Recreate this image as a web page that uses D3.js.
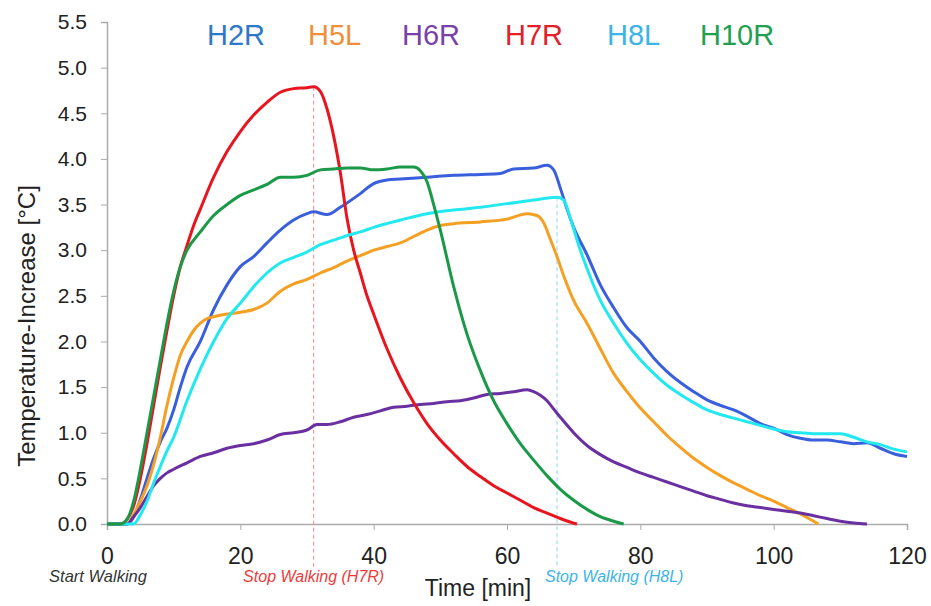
<!DOCTYPE html>
<html lang="en">
<head>
<meta charset="UTF-8">
<title>Temperature increase</title>
<script src="https://d3js.org/d3.v7.min.js"></script>
<style>
  body { margin: 0; background: #fff; }
  svg { display: block; font-family: "Liberation Sans", Arial, sans-serif; }
</style>
</head>
<body>
<div id="chart"></div>
<script>
// series: [time (min), temperature increase (°C)]
const h2r = [[0,0],[3,0],[4,0.08],[5,0.27],[6,0.5],[7,0.72],[8,0.9],[9,1.05],[10,1.25],[11,1.5],[12,1.72],[14,2.0],[16,2.35],[18,2.62],[20,2.82],[22,2.93],[24,3.08],[26,3.22],[28,3.33],[30,3.4],[31,3.42],[33,3.39],[35,3.47],[38,3.62],[40,3.73],[42,3.77],[44,3.78],[48,3.8],[52,3.82],[56,3.83],[59,3.84],[61,3.89],[64,3.9],[66,3.93],[67,3.88],[68,3.68],[69,3.45],[70,3.25],[72,2.95],[74,2.62],[76,2.37],[78,2.15],[80,2.0],[82,1.82],[84,1.67],[86,1.55],[88,1.45],[90,1.36],[92,1.3],[94,1.25],[96,1.18],[98,1.1],[100,1.05],[102,0.98],[104,0.94],[106,0.92],[108,0.92],[110,0.9],[112,0.88],[114,0.89],[116,0.83],[118,0.77],[120,0.74]];
const h5l = [[0,0],[3,0],[4,0.1],[5,0.25],[6,0.42],[7,0.65],[8,0.95],[9,1.3],[10,1.6],[11,1.85],[12,2.0],[13,2.12],[14,2.2],[15,2.25],[16,2.27],[18,2.3],[20,2.32],[22,2.35],[24,2.42],[26,2.55],[28,2.63],[30,2.68],[32,2.75],[34,2.81],[36,2.88],[38,2.94],[40,3.0],[42,3.04],[44,3.08],[46,3.15],[48,3.22],[50,3.27],[52,3.29],[56,3.31],[60,3.34],[63,3.4],[64.5,3.38],[65.5,3.3],[66.5,3.12],[67.5,2.93],[68.5,2.72],[70,2.45],[72,2.2],[74,1.92],[76,1.65],[78,1.45],[80,1.27],[82,1.12],[84,0.97],[86,0.84],[88,0.72],[90,0.62],[92,0.53],[94,0.45],[96,0.38],[98,0.31],[100,0.25],[102,0.18],[104,0.11],[106,0.03],[106.7,0]];
const h6r = [[0,0],[3,0],[4,0.08],[5,0.18],[6,0.3],[7,0.42],[8,0.5],[9,0.56],[10,0.6],[12,0.67],[14,0.74],[16,0.78],[18,0.83],[20,0.86],[22,0.88],[24,0.92],[26,0.98],[28,1.0],[30,1.03],[31.5,1.09],[33,1.09],[35,1.12],[37,1.17],[39,1.2],[41,1.24],[43,1.28],[45,1.29],[47,1.31],[49,1.32],[51,1.34],[53,1.35],[55,1.38],[57,1.42],[59,1.43],[61,1.45],[63,1.47],[64,1.45],[65,1.41],[66,1.35],[67,1.26],[68,1.17],[70,1.0],[72,0.86],[74,0.76],[76,0.68],[78,0.62],[80,0.56],[82,0.51],[84,0.46],[86,0.41],[88,0.36],[90,0.31],[92,0.27],[94,0.23],[96,0.2],[98,0.18],[100,0.16],[102,0.14],[104,0.12],[106,0.09],[108,0.06],[110,0.03],[112,0.01],[114,0]];
const h7r = [[0,0],[2,0],[3,0.05],[4,0.2],[5,0.5],[6,0.88],[7,1.3],[8,1.72],[9,2.12],[10,2.5],[11,2.82],[12,3.05],[13,3.27],[14,3.45],[16,3.8],[18,4.08],[20,4.3],[22,4.48],[24,4.62],[26,4.73],[28,4.77],[30,4.78],[31,4.79],[32,4.74],[33,4.55],[34,4.25],[35,3.85],[36,3.35],[37,3.0],[38,2.75],[39,2.5],[40,2.3],[42,1.92],[44,1.6],[46,1.33],[48,1.1],[50,0.92],[52,0.77],[54,0.63],[56,0.52],[58,0.42],[60,0.34],[62,0.26],[64,0.18],[66,0.12],[68,0.06],[70,0.01],[70.5,0]];
const h8l = [[0,0],[4,0],[5,0.1],[6,0.25],[7,0.45],[8,0.63],[9,0.8],[10,0.95],[12,1.35],[14,1.7],[16,2.0],[18,2.25],[20,2.42],[22,2.6],[24,2.75],[26,2.86],[28,2.92],[30,2.98],[32,3.06],[34,3.11],[36,3.16],[38,3.2],[40,3.25],[44,3.33],[48,3.4],[52,3.44],[56,3.47],[60,3.51],[64,3.55],[67.5,3.58],[68.5,3.55],[69.5,3.35],[71,3.0],[72,2.8],[74,2.45],[76,2.2],[78,1.98],[80,1.8],[82,1.65],[84,1.52],[86,1.42],[88,1.33],[90,1.25],[92,1.2],[94,1.16],[96,1.12],[98,1.08],[100,1.04],[102,1.01],[104,1.0],[106,0.99],[108,0.99],[110,0.99],[112,0.95],[114,0.9],[116,0.87],[118,0.82],[120,0.79]];
const h10r = [[0,0],[2,0],[3,0.05],[4,0.25],[5,0.6],[6,1.0],[7,1.4],[8,1.8],[9,2.2],[10,2.55],[11,2.82],[12,3.0],[14,3.2],[16,3.38],[18,3.5],[20,3.6],[22,3.66],[24,3.72],[26,3.8],[28,3.8],[30,3.82],[32,3.88],[34,3.89],[36,3.9],[38,3.9],[40,3.88],[42,3.89],[44,3.91],[46,3.91],[47,3.87],[48,3.75],[49,3.5],[50,3.22],[52,2.6],[54,2.08],[56,1.68],[58,1.35],[60,1.1],[62,0.88],[64,0.7],[66,0.53],[68,0.38],[70,0.26],[72,0.16],[74,0.08],[76,0.03],[77.5,0]];

const names = ["H2R", "H5L", "H6R", "H7R", "H8L", "H10R"];
const seriesData = [h2r, h5l, h6r, h7r, h8l, h10r];
const lineColors = ["#3a5fdc", "#f5a023", "#6a2fa0", "#e8141e", "#22e8f0", "#1a9a48"];
const legendColors = ["#2e78c8", "#ef8f3a", "#7a3fa8", "#e3202a", "#3bb4e6", "#22a050"];
const xTicks = [0, 20, 40, 60, 80, 100, 120];
const yTicks = [0, 0.5, 1, 1.5, 2, 2.5, 3, 3.5, 4, 4.5, 5, 5.5];
const stopTimes = [31, 67.5]; // H7R, H8L
const stopTops = [4.79, 3.58];

const width = 931, height = 606;
const margin = {left: 107, right: 24, top: 22, bottom: 82};

const svg = d3.select("#chart").append("svg")
    .attr("width", width)
    .attr("height", height);

const x = d3.scaleLinear().domain([0, 120]).range([margin.left, width - margin.right]);
const y = d3.scaleLinear().domain([0, 5.5]).range([height - margin.bottom, margin.top]);

// y axis
const yAxis = svg.append("g")
    .attr("transform", `translate(${margin.left},0)`)
    .call(d3.axisLeft(y).tickValues(yTicks).tickFormat(d3.format(".1f")).tickSize(6).tickPadding(14));
yAxis.select(".domain").attr("stroke", "#aaa").attr("stroke-width", 1.5);
yAxis.selectAll(".tick line").attr("stroke", "#aaa");
yAxis.selectAll("text").style("font-size", "21px").attr("fill", "#222");

// x axis
const xAxis = svg.append("g")
    .attr("transform", `translate(0,${y(0)})`)
    .call(d3.axisBottom(x).tickValues(xTicks).tickSize(6).tickPadding(18));
xAxis.select(".domain").attr("stroke", "#aaa").attr("stroke-width", 1.5);
xAxis.selectAll(".tick line").attr("stroke", "#aaa");
xAxis.selectAll("text").style("font-size", "23px").attr("fill", "#222");

// dashed stop lines
svg.append("line")
    .attr("x1", x(stopTimes[0])).attr("x2", x(stopTimes[0]))
    .attr("y1", y(stopTops[0])).attr("y2", 568)
    .attr("stroke", "#f08a8a").attr("stroke-width", 1).attr("stroke-dasharray", "4,3");
svg.append("line")
    .attr("x1", x(stopTimes[1])).attr("x2", x(stopTimes[1]))
    .attr("y1", y(stopTops[1])).attr("y2", 568)
    .attr("stroke", "#8fd6ea").attr("stroke-width", 1).attr("stroke-dasharray", "4,3");

// curves
const line = d3.line()
    .x(d => x(d[0]))
    .y(d => y(d[1]))
    .curve(d3.curveMonotoneX);

svg.selectAll(".curve")
    .data(seriesData)
    .enter()
    .append("path")
    .attr("class", "curve")
    .attr("d", line)
    .attr("fill", "none")
    .attr("stroke", (d, i) => lineColors[i])
    .attr("stroke-width", 3)
    .attr("stroke-linejoin", "round");

// legend
const legendX = [207, 308, 402, 505, 607, 700];
svg.selectAll(".legend")
    .data(names)
    .enter()
    .append("text")
    .attr("x", (d, i) => legendX[i])
    .attr("y", 45)
    .style("font-size", "29px")
    .attr("fill", (d, i) => legendColors[i])
    .text(d => d);

// axis titles
svg.append("text")
    .attr("transform", "translate(35,326) rotate(-90)")
    .attr("text-anchor", "middle")
    .style("font-size", "24px")
    .attr("fill", "#222")
    .text("Temperature-Increase [°C]");

svg.append("text")
    .attr("x", 478)
    .attr("y", 596)
    .attr("text-anchor", "middle")
    .style("font-size", "23px")
    .attr("fill", "#222")
    .text("Time [min]");

// walking notes
svg.append("text")
    .attr("x", 98).attr("y", 582)
    .attr("text-anchor", "middle")
    .style("font-size", "16.5px").style("font-style", "italic")
    .attr("fill", "#333")
    .text("Start Walking");
svg.append("text")
    .attr("x", x(stopTimes[0])).attr("y", 582)
    .attr("text-anchor", "middle")
    .style("font-size", "16px").style("font-style", "italic")
    .attr("fill", "#ee3a3a")
    .text("Stop Walking (H7R)");
svg.append("text")
    .attr("x", 545).attr("y", 582)
    .style("font-size", "16px").style("font-style", "italic")
    .attr("fill", "#3bb4e6")
    .text("Stop Walking (H8L)");
</script>
</body>
</html>
